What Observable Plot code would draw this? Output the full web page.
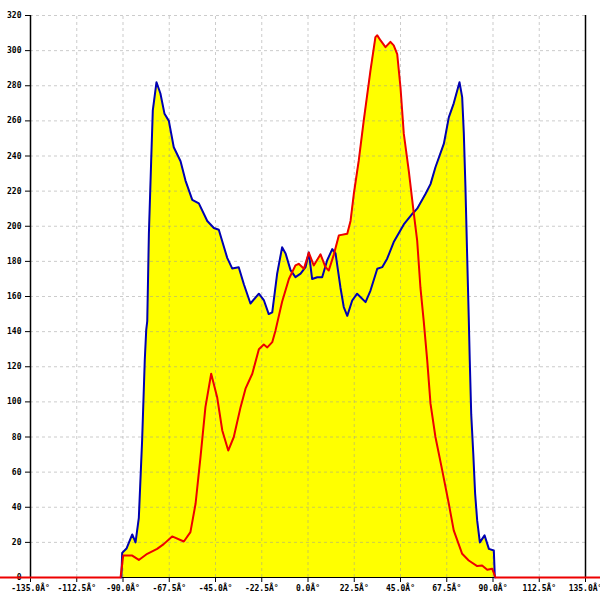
<!DOCTYPE html>
<html>
<head>
<meta charset="utf-8">
<script src="https://cdn.jsdelivr.net/npm/d3@7"></script>
<script src="https://cdn.jsdelivr.net/npm/@observablehq/plot@0.6"></script>
<style>
  html, body { margin: 0; padding: 0; background: #fff; }
  #chart svg { display: block; }
</style>
</head>
<body>
<div id="chart"></div>
<script>
// Blue series: angle (deg) and value
const blueAngle = [-90.8,-90.4,-88.3,-85.5,-83.9,-82.3,-80.7,-79.4,-78.7,-78.2,-77.4,-76.3,-75.5,-73.7,-71.8,-69.8,-67.7,-65.3,-62.0,-59.6,-56.3,-53.1,-49.0,-45.8,-43.4,-39.3,-36.9,-33.7,-31.2,-28.0,-23.9,-21.5,-19.1,-17.4,-15.0,-12.6,-10.9,-8.5,-6.1,-3.6,-1.2,0.4,2.0,4.5,6.9,9.3,11.8,13.4,15.8,17.4,19.1,21.5,23.9,28.0,30.4,33.7,36.1,38.5,41.7,46.6,50.7,53.1,57.2,59.6,62.0,66.1,68.5,70.9,73.7,75.0,75.8,76.6,77.4,78.2,78.7,79.4,80.4,81.3,82.3,83.6,85.9,88.0,90.4,90.9];
const blueValue = [0,14,16.5,24.5,20,34,78,124,141,146,196,237,266,282,275.6,264,260,245,237,226,215,213,203,199,198,182,176,176.7,167,156,161.6,158,150,151,173,188,184.5,175,171,173,176.7,185,170,171,171,180.5,187,184.5,165,154,149,157.7,161.6,156.8,163.4,175.8,176.7,181.5,191,201,207,210,218.5,224,233.6,247,262,270,282,273.5,253,222,184.5,148,123.6,93,70.6,47.8,32.5,20,24,16.3,15.4,0];

// Red series: angle (deg) and value
const redAngle = [-150,-91.2,-89.9,-85.5,-82.3,-78.2,-73.4,-70.2,-66.1,-60.4,-57.2,-54.7,-52.3,-49.9,-47.1,-44.2,-41.7,-38.8,-36.1,-32.8,-30.4,-27.1,-23.9,-21.5,-19.8,-17.4,-15.8,-12.6,-9.3,-6.1,-4.5,-2.0,0.4,2.8,6.1,8.5,10.1,12.6,15.0,19.1,20.7,22.3,24.7,27.1,30.4,32.8,33.7,35.3,37.7,40.1,41.7,43.4,45.0,46.6,49.0,51.5,53.1,54.7,56.3,58.0,59.6,62.0,65.3,68.5,70.9,75.0,78.2,82.3,84.7,87.2,89.6,91.2,143];
const redValue = [0,0,12.5,12.5,10,13.5,16.3,19,23.4,20.5,25.8,42,68.5,97,116,102.7,83.7,72.3,80,97,107.5,116,130,132.7,131,134,140.7,157,170,177.7,178.6,175.8,185,177.7,184,176.7,174.8,184,194.8,195.7,203,218.5,237.5,260,288.7,307.7,308.7,305.8,302,305,303,298,279,252.7,231.8,207,192,165,146,123.6,99,80,61,42,26.8,13.5,9.7,6.5,6.8,4.4,5,0,0];

// Axis ticks and labels
const xTicks = [-135,-112.5,-90,-67.5,-45,-22.5,0,22.5,45,67.5,90,112.5,135];
const xTickLabels = ["-135.0Â°","-112.5Â°","-90.0Â°","-67.5Â°","-45.0Â°","-22.5Â°","0.0Â°","22.5Â°","45.0Â°","67.5Â°","90.0Â°","112.5Â°","135.0Â°"];
const yTicks = [0,20,40,60,80,100,120,140,160,180,200,220,240,260,280,300,320];

const blue = blueAngle.map((a, i) => ({a, v: blueValue[i]}));
const red = redAngle.map((a, i) => ({a, v: redValue[i]}));
const xLabel = new Map(xTicks.map((t, i) => [t, xTickLabels[i]]));

const chart = Plot.plot({
  width: 600,
  height: 600,
  marginLeft: 30,
  marginRight: 15,
  marginTop: 15,
  marginBottom: 23,
  x: {domain: [-135, 135]},
  y: {domain: [0, 320]},
  style: {fontFamily: "DejaVu Sans Mono", fontSize: "8px", background: "white", color: "black"},
  marks: [
    Plot.areaY(blue, {x: "a", y: "v", fill: "#ffff00"}),
    Plot.areaY(red, {x: "a", y: "v", fill: "#ffff00"}),
    Plot.gridX(xTicks.filter(t => t > -135 && t < 135), {stroke: "#999", strokeOpacity: 0.5, strokeDasharray: "3,3", y1: 0, y2: 320}),
    Plot.gridY(yTicks.filter(t => t > 0), {stroke: "#999", strokeOpacity: 0.5, strokeDasharray: "3,3", x1: -135, x2: 135}),
    Plot.ruleX([-135, 135], {stroke: "black", strokeWidth: 1.5}),
    Plot.ruleY([0], {stroke: "black"}),
    Plot.axisX(xTicks, {tickSize: 5, tickPadding: 3, tickFormat: d => xLabel.get(d), stroke: "black", label: null, fontWeight: "bold"}),
    Plot.axisY(yTicks, {tickSize: 5, tickPadding: 4, label: null, stroke: "black", fontWeight: "bold"}),
    Plot.line(blue, {x: "a", y: "v", stroke: "#0000b4", strokeWidth: 2}),
    Plot.line(red, {x: "a", y: "v", stroke: "#ee0000", strokeWidth: 2})
  ]
});
document.getElementById("chart").appendChild(chart);
</script>
</body>
</html>
